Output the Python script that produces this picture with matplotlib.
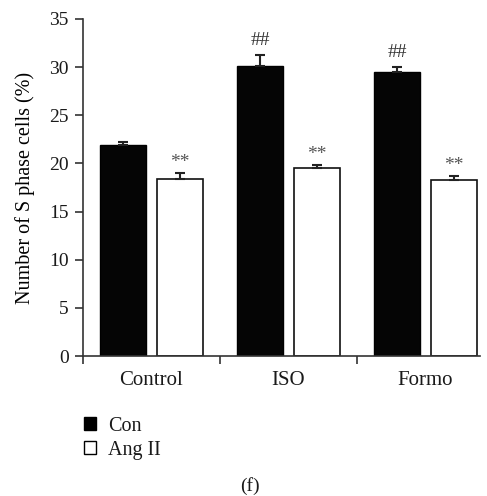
import matplotlib.pyplot as plt
import numpy as np
from matplotlib.patches import Patch

plt.rcParams['font.family'] = ['Liberation Serif', 'DejaVu Serif']
plt.rcParams['text.color'] = '#1a1a1a'

groups = ['Control', 'ISO', 'Formo']
con_vals = [21.9, 30.1, 29.5]
con_err = [0.3, 1.15, 0.55]
ang_vals = [18.4, 19.5, 18.3]
ang_err = [0.6, 0.3, 0.4]
con_marks = ['', '##', '##']
ang_marks = ['**', '**', '**']

fig = plt.figure(figsize=(4.87, 4.96), dpi=100)
ax = fig.add_axes([0.170, 0.282, 0.816, 0.680])

x = np.arange(len(groups))
w = 0.336
off = 0.206

ax.bar(x - off, con_vals, w, color='#050505', edgecolor='black', linewidth=1,
       yerr=[np.zeros(3), con_err], capsize=3.5,
       error_kw=dict(ecolor='#222222', elinewidth=1.5, capthick=1.5))
ax.bar(x + off, ang_vals, w, color='white', edgecolor='#111111', linewidth=1.2,
       yerr=[np.zeros(3), ang_err], capsize=3.5,
       error_kw=dict(ecolor='#222222', elinewidth=1.5, capthick=1.5))

# significance marks above the error bars
for i in range(len(groups)):
    if con_marks[i]:
        ax.text(x[i] - off, con_vals[i] + con_err[i] + 0.6, con_marks[i],
                ha='center', va='bottom', fontsize=14, color='#333333')
    ax.text(x[i] + off, ang_vals[i] + ang_err[i] + 0.2, ang_marks[i],
            ha='center', va='bottom', fontsize=14, color='#555555')

ax.set_xlim(-0.5, 2.4)
ax.set_ylim(0, 35)
ax.set_yticks(range(0, 36, 5))
ax.set_xticks([-0.5, 0.5, 1.5], minor=False)
ax.set_xticklabels([])
ax.set_xticks(x, minor=True)
ax.set_xticklabels(groups, minor=True)
ax.tick_params(axis='x', which='minor', length=0, pad=11, labelsize=15, labelcolor='#1a1a1a')
ax.tick_params(axis='x', which='major', direction='out', length=6, width=1.2, color='#333333')
ax.tick_params(axis='y', direction='out', length=6, width=1.2, color='#333333', labelsize=14,
               pad=4, labelcolor='#1a1a1a')
ax.spines['top'].set_visible(False)
ax.spines['right'].set_visible(False)
for s in ['left', 'bottom']:
    ax.spines[s].set_linewidth(1.2)
    ax.spines[s].set_color('#333333')
ax.set_ylabel('Number of S phase cells (%)', fontsize=14.5, labelpad=10)

handles = [Patch(facecolor='black', edgecolor='black', label='Con'),
           Patch(facecolor='white', edgecolor='black', label='Ang II')]
fig.legend(handles=handles, loc='upper left', bbox_to_anchor=(0.152, 0.18),
           frameon=False, fontsize=14.5, handlelength=0.6, handleheight=0.6,
           handletextpad=0.6, labelspacing=0.25, borderpad=0)

fig.text(0.513, 0.02, '(f)', ha='center', va='center', fontsize=14)

fig.savefig('out.png', dpi=100)
